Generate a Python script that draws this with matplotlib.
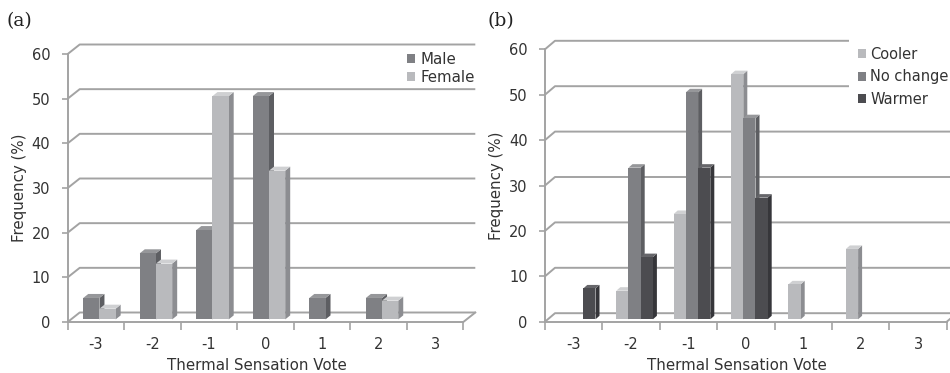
import matplotlib
matplotlib.use('Agg')
import matplotlib.pyplot as plt
from matplotlib.patches import Polygon
import numpy as np

plt.rcParams['axes.unicode_minus'] = False

# data
votes = [-3, -2, -1, 0, 1, 2, 3]
yticks = [0, 10, 20, 30, 40, 50, 60]

male = [4.8, 14.8, 20.0, 50.0, 4.8, 4.8, 0]
female = [2.4, 12.5, 50.0, 33.3, 0, 4.2, 0]

cooler = [0, 6.3, 23.2, 54.0, 7.7, 15.5, 0]
no_change = [0, 33.4, 50.0, 44.3, 0, 0, 0]
warmer = [6.8, 13.7, 33.4, 26.8, 0, 0, 0]

# colours: (front, side, top)
LIGHT = ('#b9babd', '#8c8d91', '#cfd0d2')
MID = ('#7f8084', '#5d5e62', '#96979a')
DARK = ('#4c4c50', '#36363a', '#66666a')
GRID = '#a3a3a3'
TXT = '#333333'

W, H = 950, 373
fig = plt.figure(figsize=(W / 100, H / 100), dpi=100)


def px_axes(left, right, bottom, top):
    return fig.add_axes([left / W, 1 - bottom / H, (right - left) / W, (bottom - top) / H])


def draw_panel(ax, px, series, names, colors, bar_w, shift, wall, depth, lift):
    left, right, bottom, top = px
    sx = (right - left) / 7.0
    sy = (bottom - top) / 60.0
    ax.set_xlim(-3.5, 3.5)
    ax.set_ylim(0, 60)

    # back wall grid lines
    wdx, wdy = wall[0] / sx, wall[1] / sy
    for v in yticks:
        ax.plot([-3.5, -3.5 + wdx, 3.5 + wdx], [v, v + wdy, v + wdy],
                color=GRID, lw=1.4, clip_on=False, zorder=1, solid_capstyle='butt')
    ax.plot([3.5, 3.5 + wdx], [0, wdy], color=GRID, lw=1.4, clip_on=False, zorder=1)

    # axes
    for s in ['top', 'right']:
        ax.spines[s].set_visible(False)
    for s in ['left', 'bottom']:
        ax.spines[s].set_color(GRID)
        ax.spines[s].set_linewidth(1.4)
    ax.set_yticks(yticks)
    ax.set_xticks(votes)
    ax.set_xticks(np.arange(-3.5, 3.6, 1), minor=True)
    ax.tick_params(axis='y', length=4, width=1.2, color=GRID, pad=8.5,
                   labelsize=10.5, labelcolor=TXT)
    ax.tick_params(axis='x', which='major', length=0, pad=11,
                   labelsize=10.5, labelcolor=TXT)
    ax.tick_params(axis='x', which='minor', length=6, width=1.2, color=GRID)
    ax.patch.set_alpha(0)

    # 3d columns
    n = len(series)
    bdx, bdy = depth[0] / sx, depth[1] / sy
    base = lift / sy
    handles = []
    for i, (vals, col) in enumerate(zip(series, colors)):
        xs = np.array(votes) + shift / sx + (i - (n - 1) / 2) * bar_w
        bars = ax.bar(xs, vals, width=bar_w, bottom=base, color=col[0],
                      label=names[i], clip_on=False)
        handles.append(bars)
        for j, b in enumerate(bars):
            z = 5 + (j * n + i) * 0.05
            b.set_zorder(z + 0.02)
            if vals[j] <= 0:
                continue
            xl = b.get_x()
            xr = xl + b.get_width()
            yt = base + vals[j]
            side = Polygon([(xr, base), (xr + bdx, base + bdy), (xr + bdx, yt + bdy), (xr, yt)],
                           closed=True, fc=col[1], ec='none', zorder=z, clip_on=False)
            cap = Polygon([(xl, yt), (xr, yt), (xr + bdx, yt + bdy), (xl + bdx, yt + bdy)],
                          closed=True, fc=col[2], ec='none', zorder=z + 0.01, clip_on=False)
            ax.add_patch(side)
            ax.add_patch(cap)
    return handles


# panel (a)
pa = (67.7, 463.3, 322.0, 54.0)
ax1 = px_axes(*pa)
h1 = draw_panel(ax1, pa, [male, female], ['Male', 'Female'], [MID, LIGHT],
                bar_w=16.2 / 56.5, shift=3.5, wall=(12, 9.5), depth=(5, 4), lift=2.6)
ax1.set_xlabel('Thermal Sensation Vote', fontsize=10.8, color=TXT)
ax1.xaxis.set_label_coords(0.479, -0.134)
ax1.set_ylabel('Frequency (%)', fontsize=10.8, color=TXT, va='center')
ax1.yaxis.set_label_coords(-0.123, 0.5)
ax1.legend(handles=h1, loc='upper left', bbox_to_anchor=(399 / W, 1 - 44 / H),
           bbox_transform=fig.transFigure, frameon=False, fontsize=10.8,
           borderpad=0, handlelength=0.55, handleheight=0.55, handletextpad=0.4,
           labelspacing=0.2, labelcolor=TXT)

# panel (b)
pb = (545.0, 946.8, 321.7, 49.3)
ax2 = px_axes(*pb)
h2 = draw_panel(ax2, pb, [cooler, no_change, warmer], ['Cooler', 'No change', 'Warmer'],
                [LIGHT, MID, DARK], bar_w=12.2 / 57.4, shift=3.5, wall=(10, 8.5),
                depth=(4, 3.5), lift=2.4)
ax2.set_xlabel('Thermal Sensation Vote', fontsize=10.8, color=TXT)
ax2.xaxis.set_label_coords(0.477, -0.133)
ax2.set_ylabel('Frequency (%)', fontsize=10.8, color=TXT, va='center')
ax2.yaxis.set_label_coords(-0.12, 0.5)
leg = ax2.legend(handles=h2, loc='upper left', bbox_to_anchor=(842 / W, 1 - 31 / H),
                 bbox_transform=fig.transFigure, frameon=True, fontsize=10.5,
                 borderpad=0.6, handlelength=0.55, handleheight=0.55, handletextpad=0.3,
                 labelspacing=0.5, labelcolor=TXT, fancybox=False, framealpha=1)
leg.get_frame().set_edgecolor('none')
leg.get_frame().set_facecolor('white')
leg.set_zorder(20)

fig.text(7 / W, 1 - 21 / H, '(a)', fontsize=13.5, family='DejaVu Serif', color='#222222', va='center')
fig.text(488 / W, 1 - 21 / H, '(b)', fontsize=13.5, family='DejaVu Serif', color='#222222', va='center')

fig.savefig('out.png', dpi=100)
